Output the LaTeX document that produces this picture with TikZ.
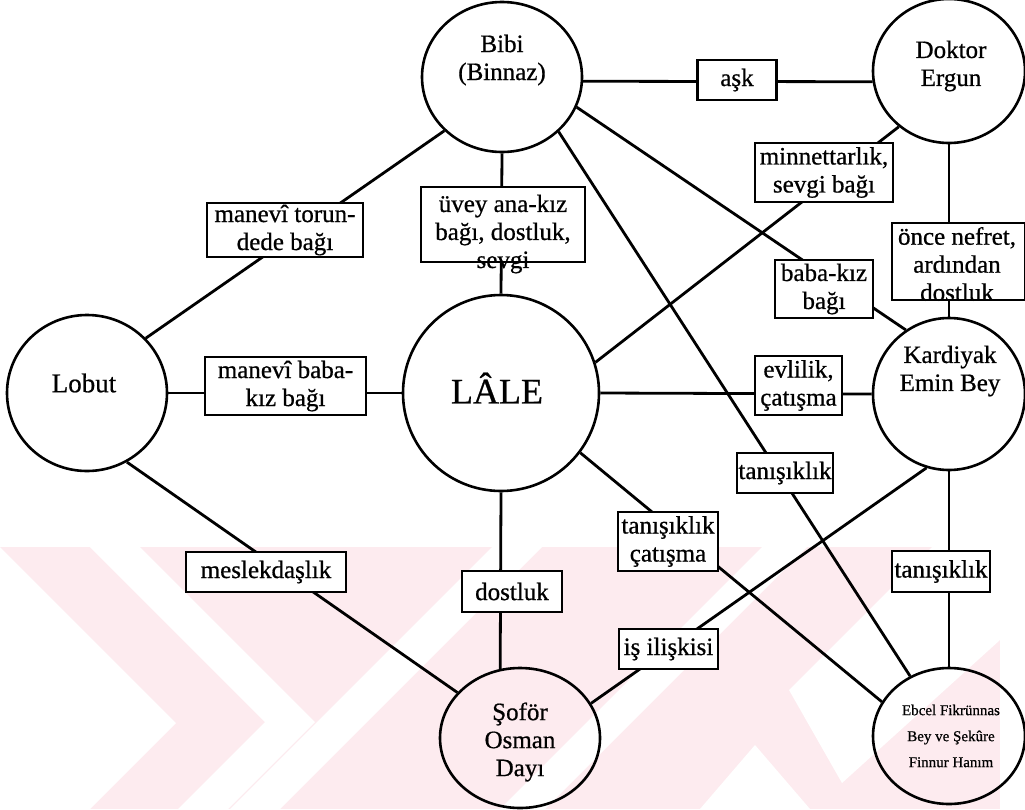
\documentclass[tikz,border=0pt]{standalone}
\usepackage{fontspec}
\setmainfont{Liberation Serif}
\newfontfamily\scanfont{Liberation Serif}[FakeBold=0.7]
\usetikzlibrary{shapes.geometric}
\definecolor{wmpink}{RGB}{253,235,239}
\begin{document}
\begin{tikzpicture}[x=1pt,y=-1pt,
  person/.style={draw,line width=2.6pt,ellipse,inner sep=0pt},
  ptext/.style={align=center,font=\scanfont\fontsize{25}{28}\selectfont,inner sep=0pt},
  relbox/.style={draw,fill=white,line width=2.4pt,rectangle,inner sep=0pt,
    align=center,font=\scanfont\fontsize{25}{28}\selectfont},
  rtext/.style={align=center,font=\scanfont\fontsize{25}{28}\selectfont,inner sep=0pt},
  link/.style={line width=2.8pt}]
\useasboundingbox (0,0) rectangle (1025,809);

% faint background band
\fill[wmpink] (0,547) rectangle (1025,809);
\fill[white] (0,547) -- (176,723) -- (90,809) -- (0,809) -- cycle;
\fill[white] (90,547) -- (140,547) -- (315,722) -- (228,809) -- (178,809) -- (265,722) -- cycle;
\fill[white] (230,809) -- (492,547) -- (542,547) -- (280,809) -- cycle;
\fill[white] (500,809) -- (762,547) -- (807,547) -- (545,809) -- cycle;
\fill[white] (932,547) -- (1025,547) -- (1025,809) -- (1000,809) -- (1000,640) -- (842,783) -- (789,690) -- cycle;
\fill[white] (700,809) -- (755,745) -- (810,809) -- cycle;

% people
\node[person,minimum width=160,minimum height=150] (bibi) at (502,77) {};
\node[person,minimum width=152,minimum height=144] (ergun) at (949,71) {};
\node[person,minimum width=160,minimum height=156] (lobut) at (87,393) {};
\node[person,minimum width=196,minimum height=196] (lale) at (501,393) {};
\node[person,minimum width=152,minimum height=152] (kardiyak) at (949,394) {};
\node[person,minimum width=160,minimum height=140] (sofor) at (520,738) {};
\node[person,minimum width=152,minimum height=136] (ebcel) at (949,736) {};

\node[ptext] (bibiT) at (502,60) {Bibi\\(Binnaz)};
\node[ptext] (ergunT) at (951,66) {Doktor\\Ergun};
\node[ptext,font=\scanfont\fontsize{27}{30}\selectfont] (lobutT) at (84,383) {Lobut};
\node[ptext,font=\scanfont\fontsize{36}{40}\selectfont] (laleT) at (497,388) {LÂLE};
\node[ptext] (kardiyakT) at (950,371) {Kardiyak\\Emin Bey};
\node[ptext] (soforT) at (520,742) {Şoför\\Osman\\Dayı};
\node[ptext,font=\scanfont\fontsize{15}{26}\selectfont] (ebcelT) at (951,736) {Ebcel Fikrünnas\\Bey ve Şekûre\\Finnur Hanım};

% relations
\draw[link] (bibi.-3) -- (ergun.188);
\draw[link] (bibi.223) -- (lobut.43);
\draw[link] (bibi.south) -- (lale.north);
\draw[link] (bibi.-22) -- (kardiyak.124.5);
\draw[link] (bibi.-44) -- (ebcel.123);
\draw[link] (ergun.south) -- (kardiyak.north);
\draw[link] (ergun.228) -- (lale.18.5);
\draw[link] (lobut.east) -- (lale.west);
\draw[link] (lale.east) -- (kardiyak.west);
\draw[link] (lobut.-60.5) -- (sofor.144);
\draw[link] (lale.south) -- (sofor.106);
\draw[link] (lale.-37) -- (ebcel.153);
\draw[link] (kardiyak.253) -- (sofor.26);
\draw[link] (kardiyak.south) -- (ebcel.north);

% relation labels
\node[relbox,minimum width=79,minimum height=40] (ask) at (737,80) {aşk};
\node[relbox,minimum width=138,minimum height=59] (minnet) at (824,172.5) {minnettarlık,\\sevgi bağı};
\node[relbox,minimum width=133,minimum height=77] (once) at (958.5,261.5) {};
\node[rtext] (onceT) at (957,264) {önce nefret,\\ardından\\dostluk};
\node[relbox,minimum width=98,minimum height=58] (babakiz) at (824,289) {baba-kız\\bağı};
\node[relbox,minimum width=156,minimum height=54] (torun) at (285,230) {manevî torun-\\dede bağı};
\node[relbox,minimum width=164,minimum height=75] (uvey) at (503,224.5) {};
\node[rtext] (uveyT) at (503,234) {üvey ana-kız\\bağı, dostluk,\\sevgi};
\node[relbox,minimum width=161,minimum height=58] (manbaba) at (285.5,386) {manevî baba-\\kız bağı};
\node[relbox,minimum width=87,minimum height=59] (evlilik) at (798.5,385.5) {evlilik,\\çatışma};
\node[relbox,minimum width=96,minimum height=40] (tanmid) at (785,473) {tanışıklık};
\node[relbox,minimum width=100,minimum height=59] (tancat) at (668,541.5) {tanışıklık\\çatışma};
\node[relbox,minimum width=98,minimum height=41] (tanright) at (941,571.5) {tanışıklık};
\node[relbox,minimum width=99,minimum height=40] (isil) at (668.5,649) {iş ilişkisi};
\node[relbox,minimum width=160,minimum height=40] (meslek) at (266,572) {meslekdaşlık};
\node[relbox,minimum width=100,minimum height=41] (dostluk) at (512,591.5) {dostluk};
\end{tikzpicture}
\end{document}
